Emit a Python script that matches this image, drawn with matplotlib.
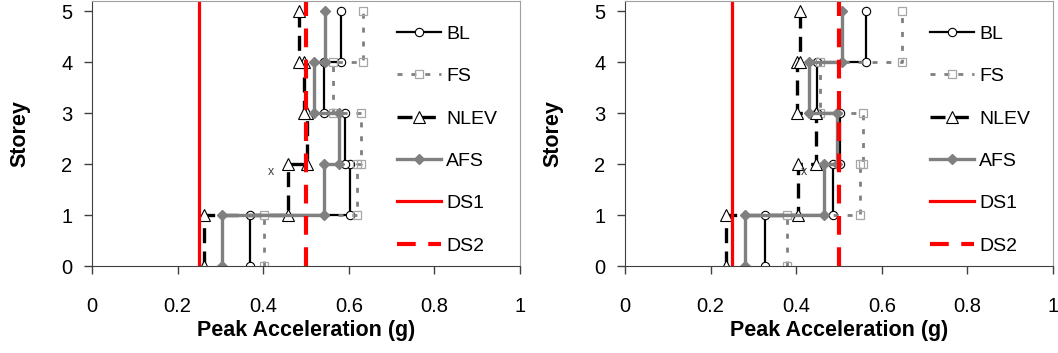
import numpy as np
import matplotlib
matplotlib.use('Agg')
import matplotlib.pyplot as plt

plt.rcParams['font.family'] = ['Liberation Sans', 'DejaVu Sans']

storeys = [0, 1, 2, 3, 4, 5]
x_ticks = [0, 0.2, 0.4, 0.6, 0.8, 1]
x_ticklabels = ['0', '0.2', '0.4', '0.6', '0.8', '1']

# peak acceleration per storey (storey 1..5)
left_bl = [0.369, 0.603, 0.591, 0.542, 0.582]
left_fs = [0.402, 0.619, 0.629, 0.563, 0.634]
left_nlev = [0.262, 0.457, 0.502, 0.495, 0.483]
left_afs = [0.304, 0.542, 0.577, 0.519, 0.544]

right_bl = [0.327, 0.486, 0.502, 0.449, 0.563]
right_fs = [0.379, 0.549, 0.557, 0.456, 0.648]
right_nlev = [0.235, 0.404, 0.446, 0.401, 0.409]
right_afs = [0.280, 0.465, 0.495, 0.430, 0.507]

ds1 = 0.25
ds2 = 0.50
note_x, note_y = 0.418, 1.84


def step_profile(vals):
    xs, ys = [], []
    for i, v in enumerate(vals):
        xs += [v, v]
        ys += [storeys[i], storeys[i + 1]]
    return xs, ys


def draw_panel(ax, bl, fs, nlev, afs):
    x, y = step_profile(bl)
    ax.plot(x, y, color='black', lw=1.6, marker='o', ms=6, mfc='white',
            mec='black', mew=0.8, label='BL')
    x, y = step_profile(fs)
    ax.plot(x, y, color='#808080', lw=2, dashes=(1.8, 3.2), marker='s', ms=6,
            mfc='none', mec='#a6a6a6', mew=0.9, label='FS')
    x, y = step_profile(nlev)
    ax.plot(x, y, color='black', lw=2.4, dashes=(4.5, 2.5), marker='^', ms=8,
            mfc='white', mec='black', mew=0.8, label='NLEV')
    x, y = step_profile(afs)
    ax.plot(x, y, color='#808080', lw=2.4, marker='D', ms=5, mfc='#808080',
            mec='#808080', label='AFS')
    ax.axvline(ds1, color='#ff0000', lw=2.3, label='DS1')
    ax.axvline(ds2, color='#ff0000', lw=3, dashes=(4.5, 3), label='DS2')
    ax.text(note_x, note_y, 'x', fontsize=9, color='#404040', ha='center', va='center')

    ax.set_xlim(0, 1)
    ax.set_ylim(0, 5.2)
    ax.set_xticks(x_ticks)
    ax.set_xticklabels(x_ticklabels)
    ax.set_yticks(storeys)
    ax.tick_params(axis='both', direction='out', length=6, width=1,
                   color='#404040', labelsize=14.5)
    ax.tick_params(axis='x', pad=16)
    ax.tick_params(axis='y', pad=8)
    for side in ['left', 'bottom']:
        ax.spines[side].set_color('#404040')
    for side in ['top', 'right']:
        ax.spines[side].set_color('#a0a0a0')
    ax.set_xlabel('Peak Acceleration (g)', fontsize=15.5, fontweight='bold', labelpad=3)
    ax.set_ylabel('Storey', fontsize=15.5, fontweight='bold', labelpad=22)
    ax.legend(loc='upper left', bbox_to_anchor=(0.713, 0.908), frameon=False,
              fontsize=14, borderaxespad=0, borderpad=0, handlelength=2.27,
              handletextpad=0.26, labelspacing=1.27, numpoints=1)


fig = plt.figure(figsize=(10.58, 3.53), dpi=100)
ax1 = fig.add_axes([92 / 1058, 87 / 353, 428 / 1058, 265 / 353])
ax2 = fig.add_axes([625 / 1058, 87 / 353, 428 / 1058, 265 / 353])

draw_panel(ax1, left_bl, left_fs, left_nlev, left_afs)
draw_panel(ax2, right_bl, right_fs, right_nlev, right_afs)

fig.savefig('out.png', dpi=100)
